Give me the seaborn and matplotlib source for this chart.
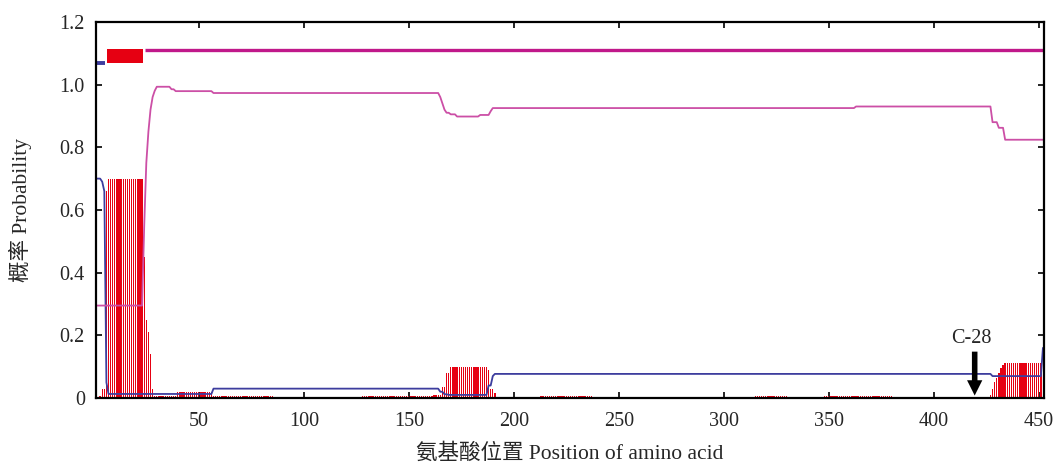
import numpy as np
import matplotlib
matplotlib.use('Agg')
import matplotlib.pyplot as plt
import seaborn as sns

seq_len = 452

# 跨膜螺旋概率 (红色柱): 每段的起始残基 + 该段概率
tm_start = [1, 3, 4, 6, 7, 24, 25, 26, 27, 28, 29, 40, 57, 86, 128, 162, 166, 168, 170,
            188, 189, 191, 192, 213, 238, 315, 331, 348, 381, 427, 428, 429, 430, 431,
            432, 433, 434, 452]
tm_prob = [0.0, 0.005, 0.03, 0.66, 0.70, 0.45, 0.25, 0.21, 0.14, 0.03, 0.006, 0.02, 0.006,
           0.0, 0.005, 0.01, 0.035, 0.08, 0.10, 0.09, 0.03, 0.015, 0.0, 0.005, 0.0, 0.005,
           0.0, 0.005, 0.0, 0.01, 0.03, 0.05, 0.065, 0.08, 0.095, 0.105, 0.113, 0.0]

# 膜内概率 (蓝线)
inside_start = [1, 4, 5, 6, 7, 57, 165, 167, 169, 188, 190, 191, 428, 452]
inside_prob = [0.70, 0.69, 0.66, 0.05, 0.013, 0.03, 0.02, 0.012, 0.01, 0.04, 0.07, 0.077,
               0.07, 0.16]

# 膜外概率 (粉线)
outside_start = [1, 24, 25, 26, 27, 28, 29, 30, 37, 39, 57, 165, 166, 167, 168, 170, 173,
                 184, 189, 190, 363, 428, 431, 434]
outside_prob = [0.295, 0.55, 0.75, 0.85, 0.92, 0.96, 0.98, 0.993, 0.985, 0.979, 0.973, 0.96,
                0.94, 0.92, 0.91, 0.905, 0.898, 0.903, 0.915, 0.925, 0.93, 0.88, 0.862, 0.824]

# 顶部拓扑条 (起止残基)
topo_inside = (1, 5)
topo_tm = (7, 23)
topo_outside = (25, 452)

xticks = [50, 100, 150, 200, 250, 300, 350, 400, 450]
yticks = [0, 0.2, 0.4, 0.6, 0.8, 1.0, 1.2]
ytick_labels = ['0', '0.2', '0.4', '0.6', '0.8', '1.0', '1.2']

cut_site = 419.5
cut_label = 'C-28'

c_red = '#e60012'
c_blue = '#3d3d9e'
c_pink = '#cc4fa6'
c_top = '#c0188a'


def expand(starts, vals):
    lengths = np.diff(starts + [seq_len + 1])
    return np.repeat(vals, lengths)


res = np.arange(1, seq_len + 1)
tm = expand(tm_start, tm_prob)
inside = expand(inside_start, inside_prob)
outside = expand(outside_start, outside_prob)

sns.set_style('ticks')
plt.rcParams['font.family'] = ['Liberation Serif', 'Noto Sans CJK SC']

fig = plt.figure(figsize=(10.54, 4.65), dpi=100)
ax = fig.add_axes([0.091, 0.144, 0.8995, 0.809])

ax.bar(res, tm, width=0.65, color=c_red, linewidth=0)
sns.lineplot(x=res, y=inside, color=c_blue, lw=1.3, ax=ax)
sns.lineplot(x=res, y=outside, color=c_pink, lw=1.3, ax=ax)

# 顶部拓扑
ax.plot([topo_inside[0] - 0.5, topo_inside[1] + 0.5], [1.07, 1.07], color=c_blue, lw=2.8,
        solid_capstyle='butt')
ax.fill_between([topo_tm[0] - 0.5, topo_tm[1] + 0.5], 1.068, 1.115, color=c_red, lw=0)
ax.plot([topo_outside[0] - 0.5, topo_outside[1] + 0.5], [1.11, 1.11], color=c_top, lw=2.4,
        solid_capstyle='butt')

# 切割位点
ax.annotate('', xy=(cut_site, 0.008), xytext=(cut_site, 0.148),
            arrowprops=dict(arrowstyle='simple,head_length=1.1,head_width=1.1,tail_width=0.4',
                            mutation_scale=10, color='black', lw=0, shrinkA=0, shrinkB=0))
ax.text(cut_site - 1.5, 0.176, cut_label, ha='center', va='baseline', fontsize=14.5)

ax.set_xlim(1, 452.5)
ax.set_ylim(0, 1.2)
ax.set_xticks(xticks)
ax.set_yticks(yticks)
ax.set_yticklabels(ytick_labels)
ax.tick_params(direction='in', top=True, right=True, length=4.5, width=1.2,
               labelsize=14.5, color='black')
ax.tick_params(axis='x', pad=10)
ax.tick_params(axis='y', pad=8)
for s in ax.spines.values():
    s.set_linewidth(1.6)
    s.set_color('black')

ax.set_xlabel('氨基酸位置 Position of amino acid', fontsize=15.5, labelpad=9)
ax.set_ylabel('概率 Probability', fontsize=15.5, labelpad=20)

fig.savefig('out.png', dpi=100)
